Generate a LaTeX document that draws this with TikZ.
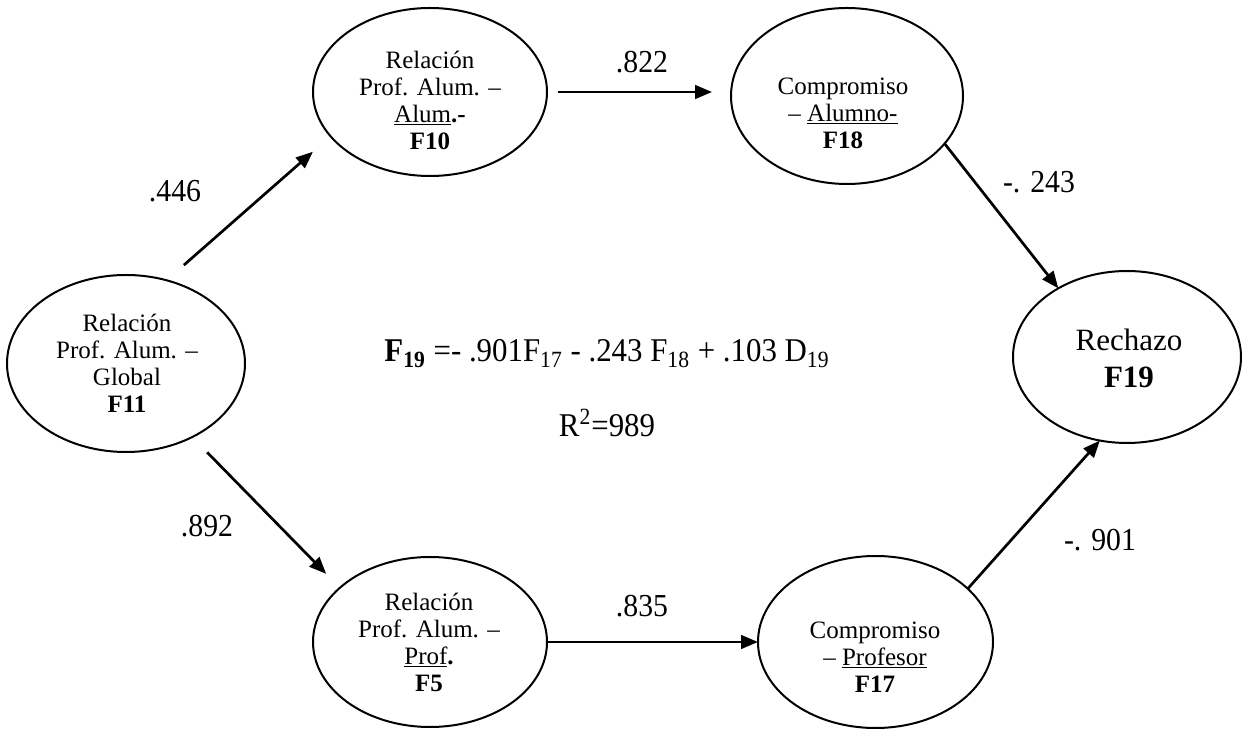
\documentclass[tikz,border=0pt]{standalone}
\usepackage{fontspec}
\setmainfont{Liberation Serif}
% slightly condensed cut for coefficients and the equation
\newfontfamily\coeffont{Liberation Serif}[FakeStretch=0.93]
\usetikzlibrary{shapes.geometric,arrows.meta}
% underline with a firmer rule than \underline
\newcommand\undl[1]{\setbox0\hbox{#1}\rlap{\rule[-1.6pt]{\wd0}{0.7pt}}\box0}
\begin{document}
\begin{tikzpicture}[x=0.5pt,y=-0.5pt,
  factor/.style={ellipse, draw, line width=1pt, inner sep=0pt, outer sep=0pt},
  ftext/.style={align=center, inner sep=0pt, font=\fontsize{12.5}{13.5}\selectfont},
  coef/.style={inner sep=0pt, font=\coeffont\fontsize{16}{18}\selectfont},
  eqtext/.style={inner sep=0pt, anchor=base, font=\coeffont\fontsize{16.6}{19}\selectfont},
  link/.style={line width=1.35pt, -{Triangle[length=8.5pt,width=6.8pt]}}]
\useasboundingbox (0,0) rectangle (1248,731);

% factors
\node[factor, minimum width=119pt, minimum height=88.5pt] (F11) at (126,363.5) {};
\node[factor, minimum width=117pt, minimum height=84pt]   (F10) at (430,92) {};
\node[factor, minimum width=116pt, minimum height=88pt]   (F18) at (847,96) {};
\node[factor, minimum width=117pt, minimum height=85pt]   (F5)  at (430,642) {};
\node[factor, minimum width=117.5pt, minimum height=86pt] (F17) at (875.5,642) {};
\node[factor, minimum width=114pt, minimum height=86pt]   (F19) at (1127,357) {};

% factor names
\node[ftext] (t11) at (127,363) {Relación\\Prof. Alum. –\\Global\\\textbf{F11}};
\node[ftext] (t10) at (430,100) {Relación\\Prof. Alum. –\\\undl{Alum}\textbf{.-}\\\textbf{F10}};
\node[ftext] (t18) at (843,113) {Compromiso\\– \undl{Alumno-}\\\textbf{F18}};
\node[ftext] (t5)  at (429,642) {Relación\\Prof. Alum. –\\\undl{Prof}\textbf{.}\\\textbf{F5}};
\node[ftext] (t17) at (875,657) {Compromiso\\– \undl{Profesor}\\\textbf{F17}};
\node[ftext, font=\fontsize{15.5}{18.5}\selectfont] (t19) at (1129,358) {Rechazo\\\textbf{F19}};

% paths
\draw[link, shorten <=11.5pt, shorten >=11.75pt] (F11.64.6) -- (F10.204.2);
\draw[link, shorten <=10.7pt, shorten >=9.75pt] (F11.-48.7) -- (F5.149.9);
\draw[link, shorten <=5.5pt, shorten >=9.5pt] (F10.east) -- (F10.east -| F18.west);
\draw[link] (F5.east) -- (F17.west);
\draw[link] (F18.-26) -- (F19.135.8);
\draw[link] (F17.30.3) -- (F19.252);

% coefficients
\node[coef] (l446) at (175,191) {.446};
\node[coef] (l892) at (207,526) {.892};
\node[coef] (l822) at (642,62) {.822};
\node[coef] (l835) at (642,606) {.835};
\node[coef] (l243) at (1039,182) {-. 243};
\node[coef] (l901) at (1100,540) {-. 901};

% structural equation
\node[eqtext] (eq) at (607,362)
  {\textbf{F\textsubscript{19}} =- .901F\textsubscript{17} - .243 F\textsubscript{18} + .103 D\textsubscript{19}};
\node[eqtext] (r2) at (607,437) {R\textsuperscript{2}=989};
\end{tikzpicture}
\end{document}
